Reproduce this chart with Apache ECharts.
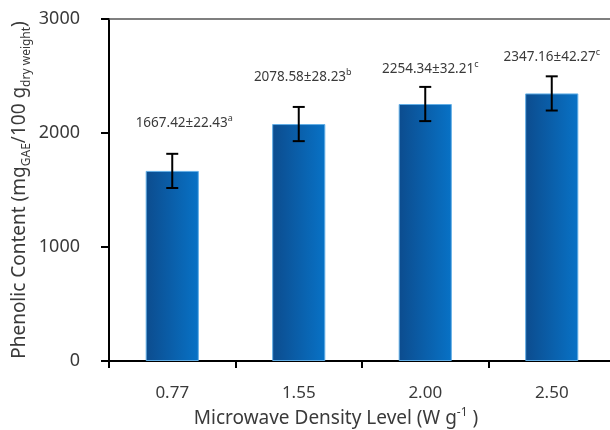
<!DOCTYPE html>
<html>
<head>
<meta charset="utf-8">
<script src="https://cdn.jsdelivr.net/npm/echarts@6/dist/echarts.min.js"></script>
<style>
  html, body { margin: 0; padding: 0; background: #fff; }
  #chart { width: 610px; height: 430px; }
</style>
</head>
<body>
<div id="chart"></div>
<script>
// Microwave power density levels (W g-1)
const densityLevels = ['0.77', '1.55', '2.00', '2.50'];
// Mean phenolic content (mg GAE / 100 g dry weight)
const phenolicMean = [1667.42, 2078.58, 2254.34, 2347.16];
// Reported standard deviations
const phenolicSD = [22.43, 28.23, 32.21, 42.27];
// Significance letters
const groupLetters = ['a', 'b', 'c', 'c'];
// Plotted error bar half-lengths
const errorBarHalf = [150, 150, 150, 150];
// Value axis ticks
const yTicks = [0, 1000, 2000, 3000];

const FONT = '"Noto Sans", "Open Sans", sans-serif';
const TEXT = '#3a3a3a';

// fine placement of the value labels above each bar [dx, dy]
const labelShift = [[12, -39], [4, -38], [5, -26], [0, -27]];

const chart = echarts.init(document.getElementById('chart'), null, { renderer: 'canvas' });

const barGradient = new echarts.graphic.LinearGradient(0, 0, 1, 0, [
  { offset: 0, color: '#0c4c8e' },
  { offset: 1, color: '#0872c6' }
]);

const barData = phenolicMean.map((v, i) => ({
  value: v,
  label: {
    offset: labelShift[i],
    formatter: '{v|' + v.toFixed(2) + '±' + phenolicSD[i].toFixed(2) + '}{s|' + groupLetters[i] + '}'
  }
}));

const errData = phenolicMean.map((v, i) => [i, v, errorBarHalf[i]]);

chart.setOption({
  animation: false,
  backgroundColor: '#ffffff',
  textStyle: { fontFamily: FONT },
  grid: { left: 109, top: 19, width: 506, bottom: 69, containLabel: false, outerBoundsMode: 'none' },
  xAxis: [
    {
      type: 'category',
      data: densityLevels,
      position: 'bottom',
      boundaryGap: true,
      axisLine: { lineStyle: { color: '#000', width: 2 } },
      axisTick: { show: true, length: 7, inside: false, lineStyle: { color: '#000', width: 2 } },
      axisLabel: { color: TEXT, fontSize: 17, fontFamily: FONT, margin: 24 },
      name: '{t|Microwave Density Level (W g}{p|-1}{t| )}',
      nameLocation: 'middle',
      nameGap: 46,
      nameMoveOverlap: false,
      nameTextStyle: {
        padding: [0, 52, 0, 0],
        rich: {
          t: { fontSize: 19, fontFamily: FONT, color: TEXT, lineHeight: 23 },
          p: { fontSize: 12, fontFamily: FONT, color: TEXT, lineHeight: 13, verticalAlign: 'top' }
        }
      }
    },
    {
      type: 'category',
      data: densityLevels,
      position: 'top',
      axisLine: { show: true, lineStyle: { color: '#555', width: 1.5 } },
      axisTick: { show: false },
      axisLabel: { show: false }
    }
  ],
  yAxis: {
    type: 'value',
    min: yTicks[0],
    max: yTicks[yTicks.length - 1],
    interval: yTicks[1] - yTicks[0],
    axisLine: { show: true, lineStyle: { color: '#000', width: 2 } },
    axisTick: { show: true, length: 8, inside: false, lineStyle: { color: '#000', width: 2 } },
    splitLine: { show: false },
    axisLabel: { color: TEXT, fontSize: 18, fontFamily: FONT, margin: 29, formatter: v => String(v) },
    name: '{t|Phenolic Content (mg}{b|GAE}{t|/100 g}{b|dry weight}{t|)}',
    nameLocation: 'middle',
    nameGap: 76,
    nameMoveOverlap: false,
    nameTextStyle: {
      rich: {
        t: { fontSize: 19, fontFamily: FONT, color: TEXT, lineHeight: 26 },
        b: { fontSize: 12, fontFamily: FONT, color: TEXT, lineHeight: 14, verticalAlign: 'bottom' }
      }
    }
  },
  series: [
    {
      type: 'bar',
      data: barData,
      barWidth: '42%',
      itemStyle: { color: barGradient, borderColor: '#62aee6', borderWidth: 1 },
      label: {
        show: true,
        position: 'top',
        distance: 0,
        rich: {
          v: { fontSize: 13.5, fontFamily: FONT, color: TEXT, lineHeight: 18 },
          s: { fontSize: 9, fontFamily: FONT, color: TEXT, lineHeight: 10, verticalAlign: 'top' }
        }
      },
      z: 2
    },
    {
      type: 'custom',
      data: errData,
      z: 5,
      renderItem: function (params, api) {
        const i = api.value(0);
        const mean = api.value(1);
        const half = api.value(2);
        const hi = api.coord([i, mean + half]);
        const lo = api.coord([i, mean - half]);
        const cap = 6;
        const style = { stroke: '#000', lineWidth: 2, fill: null };
        return {
          type: 'group',
          children: [
            { type: 'line', shape: { x1: hi[0], y1: hi[1], x2: lo[0], y2: lo[1] }, style: style },
            { type: 'line', shape: { x1: hi[0] - cap, y1: hi[1], x2: hi[0] + cap, y2: hi[1] }, style: style },
            { type: 'line', shape: { x1: lo[0] - cap, y1: lo[1], x2: lo[0] + cap, y2: lo[1] }, style: style }
          ]
        };
      }
    }
  ]
});
</script>
</body>
</html>
